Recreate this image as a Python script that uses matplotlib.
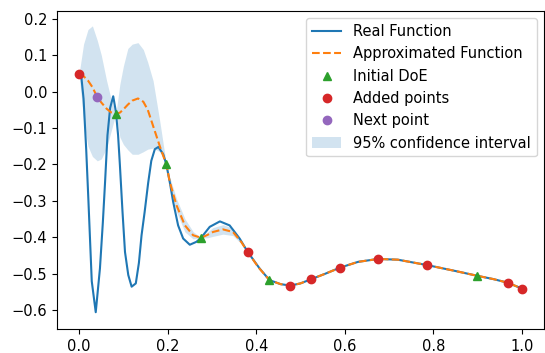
import numpy as np
import matplotlib
matplotlib.use("Agg")
import matplotlib.pyplot as plt

plt.rcParams['font.size'] = 10.5

# real function
x_real = [0.0, 0.005, 0.01, 0.016, 0.021, 0.0285, 0.0375, 0.047, 0.0535, 0.0585,
          0.064, 0.07, 0.077, 0.083, 0.088, 0.092, 0.098, 0.1036, 0.111, 0.1186,
          0.128, 0.135, 0.141, 0.148, 0.156, 0.163, 0.171, 0.179, 0.19, 0.197,
          0.205, 0.2125, 0.2236, 0.235, 0.25, 0.265, 0.2755, 0.295, 0.318, 0.34,
          0.3626, 0.381, 0.4077, 0.43, 0.455, 0.477, 0.5, 0.523, 0.555, 0.589,
          0.63, 0.675, 0.72, 0.787, 0.85, 0.899, 0.935, 0.968, 1.0]
y_real = [0.049, 0.04, -0.02, -0.16, -0.30, -0.52, -0.605, -0.485, -0.36, -0.25,
          -0.12, -0.045, -0.013, -0.055, -0.12, -0.2, -0.33, -0.44, -0.503, -0.535,
          -0.526, -0.47, -0.394, -0.33, -0.25, -0.19, -0.158, -0.152, -0.172, -0.2,
          -0.25, -0.303, -0.367, -0.403, -0.42, -0.412, -0.401, -0.371, -0.356, -0.367,
          -0.403, -0.44, -0.485, -0.517, -0.528, -0.532, -0.526, -0.515, -0.5, -0.483,
          -0.467, -0.459, -0.461, -0.476, -0.492, -0.505, -0.514, -0.524, -0.540]

# kriging prediction and 95% band
x_gp = [0.0, 0.01, 0.02, 0.03, 0.041, 0.05, 0.062, 0.072, 0.083, 0.092,
        0.1, 0.11, 0.12, 0.133, 0.145, 0.155, 0.167, 0.182, 0.197, 0.205,
        0.22, 0.239, 0.2575, 0.2755, 0.29, 0.3025, 0.325, 0.3475, 0.366, 0.381,
        0.405, 0.43, 0.455, 0.477, 0.5, 0.523, 0.555, 0.589, 0.63, 0.675,
        0.72, 0.787, 0.85, 0.899, 0.935, 0.968, 1.0]
y_gp = [0.049, 0.042, 0.030, 0.012, -0.0155, -0.03, -0.047, -0.057, -0.061, -0.058,
        -0.049, -0.036, -0.025, -0.019, -0.028, -0.05, -0.094, -0.149, -0.2, -0.249,
        -0.312, -0.367, -0.394, -0.401, -0.393, -0.385, -0.378, -0.385, -0.412, -0.44,
        -0.482, -0.517, -0.528, -0.532, -0.526, -0.515, -0.5, -0.483, -0.467, -0.459,
        -0.461, -0.476, -0.492, -0.505, -0.514, -0.524, -0.540]
y_up = [0.049, 0.13, 0.17, 0.18, 0.14, 0.10, 0.03, -0.02, -0.061, 0.02,
        0.07, 0.118, 0.13, 0.134, 0.115, 0.08, 0.03, -0.08, -0.2, -0.236,
        -0.294, -0.349, -0.384, -0.401, -0.385, -0.373, -0.365, -0.375, -0.407, -0.44,
        -0.482, -0.517, -0.528, -0.532, -0.526, -0.515, -0.5, -0.483, -0.467, -0.459,
        -0.461, -0.476, -0.492, -0.505, -0.514, -0.524, -0.540]
y_low = [0.049, -0.08, -0.15, -0.178, -0.19, -0.185, -0.155, -0.11, -0.061, -0.125,
         -0.145, -0.16, -0.172, -0.172, -0.165, -0.158, -0.155, -0.165, -0.2, -0.262,
         -0.33, -0.385, -0.404, -0.401, -0.401, -0.397, -0.391, -0.395, -0.417, -0.44,
         -0.482, -0.517, -0.528, -0.532, -0.526, -0.515, -0.5, -0.483, -0.467, -0.459,
         -0.461, -0.476, -0.492, -0.505, -0.514, -0.524, -0.540]

# sampled points
x_doe = [0.083, 0.197, 0.2755, 0.43, 0.899]
y_doe = [-0.061, -0.2, -0.401, -0.517, -0.505]
x_add = [0.0, 0.381, 0.477, 0.523, 0.589, 0.675, 0.787, 0.968, 1.0]
y_add = [0.049, -0.44, -0.532, -0.515, -0.483, -0.460, -0.476, -0.524, -0.540]
x_next = [0.041]
y_next = [-0.0155]

fig = plt.figure(figsize=(5.45, 3.53), dpi=100)
ax = fig.add_axes([0.1046, 0.068, 0.8934, 0.9008])

ax.plot(x_real, y_real, color='C0', label='Real Function')
ax.plot(x_gp, y_gp, '--', color='C1', label='Approximated Function')
ax.plot(x_doe, y_doe, '^', color='C2', label='Initial DoE')
ax.plot(x_add, y_add, 'o', color='C3', label='Added points')
ax.plot(x_next, y_next, 'o', color='C4', label='Next point')
ax.fill_between(x_gp, y_low, y_up, color='C0', alpha=0.2, lw=0,
                label='95% confidence interval')

ax.set_xlim(-0.05, 1.05)
ax.set_ylim(-0.651, 0.2207)
ax.set_xticks([0.0, 0.2, 0.4, 0.6, 0.8, 1.0])
ax.set_yticks([-0.6, -0.5, -0.4, -0.3, -0.2, -0.1, 0.0, 0.1, 0.2])
ax.legend(loc='upper right')

fig.savefig('out.png', dpi=100)
